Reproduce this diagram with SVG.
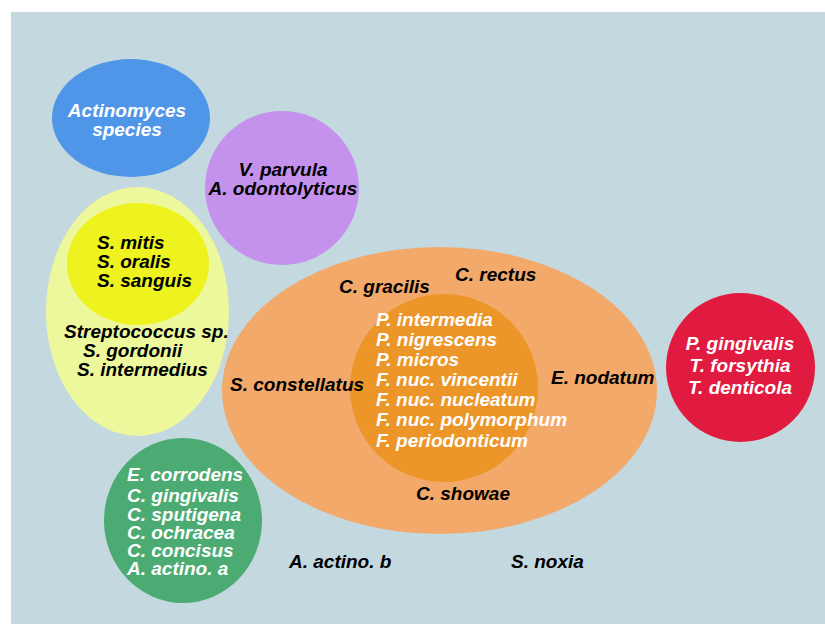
<svg xmlns="http://www.w3.org/2000/svg" width="825" height="624" viewBox="0 0 825 624">
<style>
text{font-family:"Liberation Sans",Arial,sans-serif;font-weight:bold;font-style:italic;font-size:19px;fill:#000}
.w{fill:#fff}
.c{text-anchor:middle}
</style>
<rect x="0" y="0" width="825" height="624" fill="#fff"/>
<rect x="11" y="12" width="814" height="612" fill="#C4D8DF"/>
<g id="actinomyces">
<ellipse cx="131" cy="118" rx="79" ry="59" fill="#5096E8"/>
<text class="w c" x="127" y="117">Actinomyces</text>
<text class="w c" x="127" y="136">species</text>
</g>
<g id="purple">
<circle cx="282" cy="188" r="77" fill="#C492EC"/>
<text class="c" x="283" y="176">V. parvula</text>
<text class="c" x="283" y="195">A. odontolyticus</text>
</g>
<g id="yellow">
<ellipse cx="137.5" cy="311.5" rx="91.5" ry="124.5" fill="#EDF89C"/>
<text x="64" y="338">Streptococcus sp.</text>
<text x="83" y="357">S. gordonii</text>
<text x="77" y="376">S. intermedius</text>
</g>
<g id="yellow-inner">
<ellipse cx="138" cy="264" rx="71" ry="61" fill="#EEF21E"/>
<text x="97" y="249">S. mitis</text>
<text x="97" y="268">S. oralis</text>
<text x="97" y="287">S. sanguis</text>
</g>
<g id="orange">
<ellipse cx="439.5" cy="390.5" rx="217.5" ry="143.5" fill="#F3A96A"/>
<g id="orange-inner">
<circle cx="444" cy="388" r="94" fill="#EC9529"/>
<text class="w" x="376" y="326">P. intermedia</text>
<text class="w" x="376" y="346">P. nigrescens</text>
<text class="w" x="376" y="366">P. micros</text>
<text class="w" x="376" y="386">F. nuc. vincentii</text>
<text class="w" x="376" y="406">F. nuc. nucleatum</text>
<text class="w" x="376" y="426">F. nuc. polymorphum</text>
<text class="w" x="376" y="447">F. periodonticum</text>
</g>
<text x="339" y="293">C. gracilis</text>
<text x="455" y="281">C. rectus</text>
<text x="230" y="391">S. constellatus</text>
<text x="551" y="384">E. nodatum</text>
<text x="416" y="500">C. showae</text>
</g>
<g id="red">
<circle cx="740.5" cy="367.5" r="74.5" fill="#E11A3F"/>
<text class="w c" x="740" y="350">P. gingivalis</text>
<text class="w c" x="740" y="372">T. forsythia</text>
<text class="w c" x="740" y="394">T. denticola</text>
</g>
<g id="green">
<ellipse cx="183" cy="520.5" rx="79" ry="82.5" fill="#4BAB72"/>
<text class="w" x="127" y="481">E. corrodens</text>
<text class="w" x="127" y="502">C. gingivalis</text>
<text class="w" x="127" y="521">C. sputigena</text>
<text class="w" x="127" y="539">C. ochracea</text>
<text class="w" x="127" y="557">C. concisus</text>
<text class="w" x="127" y="575">A. actino. a</text>
</g>
<g id="actino-b"><text x="289" y="568">A. actino. b</text></g>
<g id="noxia"><text x="511" y="568">S. noxia</text></g>
<g id="connectors"/>
</svg>
